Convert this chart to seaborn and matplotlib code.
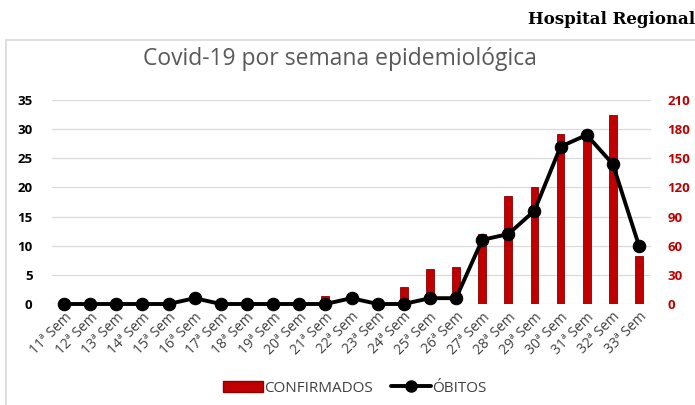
import seaborn as sns
import matplotlib.pyplot as plt
import matplotlib.patches as mpatches
from matplotlib.lines import Line2D
import pandas as pd

semanas = [f"{i}ª Sem" for i in range(11, 34)]
confirmados = [0, 0, 0, 0, 0, 0, 0, 0, 0, 0, 8, 0, 0, 18, 36, 38, 72, 111, 120, 175, 174, 195, 49]
obitos = [0, 0, 0, 0, 0, 1, 0, 0, 0, 0, 0, 1, 0, 0, 1, 1, 11, 12, 16, 27, 29, 24, 10]
df = pd.DataFrame({"semana": semanas, "confirmados": confirmados, "obitos": obitos})

sns.set_style("white")
plt.rcParams["font.family"] = ["Open Sans", "DejaVu Sans"]

fig = plt.figure(figsize=(6.95, 4.05), dpi=100)
ax = fig.add_axes([52 / 695, 1 - 304 / 405, 599 / 695, 204 / 405])

# bars use the right-hand scale (0-210)
sns.barplot(data=df, x="semana", y="confirmados", color="#C00000", width=0.3,
            edgecolor="#8B0000", linewidth=0.6, saturation=1, ax=ax, zorder=2)
ax.set_ylim(0, 210)
ax.set_xlim(-0.46, 22.46)
ax.set_yticks(range(0, 211, 30))
ax.grid(axis="y", color="#D9D9D9", linewidth=0.9, zorder=0)
ax.set_axisbelow(True)
ax.set_xlabel("")
ax.set_ylabel("")
ax.set_xticks(range(len(semanas)))
ax.set_xticklabels(semanas, rotation=45, ha="right", rotation_mode="anchor",
                   fontsize=10, color="#404040")
ax.tick_params(axis="x", length=0, pad=4)
for s in ax.spines.values():
    s.set_visible(False)

# line uses the left-hand scale (0-35)
ax2 = ax.twinx()
sns.lineplot(x=list(range(len(semanas))), y=obitos, color="black", linewidth=2.8,
             marker="o", markersize=9, markeredgecolor="black", ax=ax2, clip_on=False)
ax2.set_ylim(0, 35)
ax2.set_yticks(range(0, 36, 5))
ax2.yaxis.tick_left()
ax2.tick_params(axis="y", colors="black", labelsize=9.5, length=0, pad=14)
for t in ax2.get_yticklabels():
    t.set_fontweight("bold")
for s in ax2.spines.values():
    s.set_visible(False)

# twinx moved the bar axis ticks to the left, put them back on the right
ax.yaxis.tick_right()
ax.tick_params(axis="y", colors="#C00000", labelsize=9.5, length=0, pad=12)
for t in ax.get_yticklabels():
    t.set_fontweight("bold")

# frame and texts
fig.patches.append(mpatches.Rectangle((6 / 695, -0.1), 1.2, 1 - 40 / 405 + 0.1,
                                      transform=fig.transFigure, fill=False,
                                      edgecolor="#D9D9D9", linewidth=1.2))
fig.text(340 / 695, 1 - 59 / 405, "Covid-19 por semana epidemiológica",
         ha="center", va="center", fontsize=16.5, color="#595959")
fig.text(528 / 695, 1 - 20 / 405, "Hospital Regional", ha="left", va="center",
         fontsize=12, fontweight="bold", family="DejaVu Serif", color="black")

handles = [mpatches.Patch(facecolor="#C00000", edgecolor="#8B0000"),
           Line2D([0], [0], color="black", linewidth=2.8, marker="o", markersize=8)]
fig.legend(handles, ["CONFIRMADOS", "ÓBITOS"], loc="center",
           bbox_to_anchor=(355 / 695, 1 - 388 / 405), ncol=2, frameon=False,
           fontsize=11, labelcolor="#404040", handlelength=2.6, handletextpad=0.1,
           columnspacing=1.2)

fig.savefig("out.png", dpi=100)
